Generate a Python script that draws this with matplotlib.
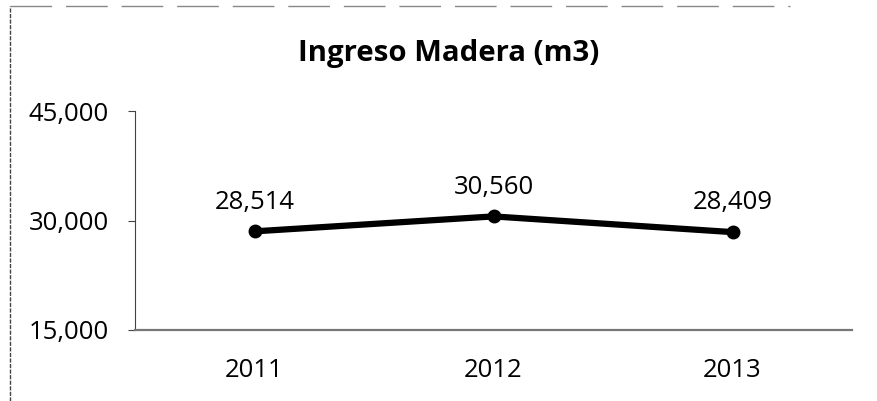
import matplotlib
matplotlib.use("Agg")
import matplotlib.pyplot as plt
from matplotlib.lines import Line2D
from matplotlib.ticker import FuncFormatter

years = ["2011", "2012", "2013"]
ingreso = [28514, 30560, 28409]
yticks = [15000, 30000, 45000]

font = ["Open Sans", "DejaVu Sans"]

fig = plt.figure(figsize=(8.77, 4.01), dpi=100)
ax = fig.add_axes([135 / 877, 1 - 330 / 401, (852 - 135) / 877, (330 - 111) / 401])

x = range(len(years))
ax.plot(x, ingreso, color="black", linewidth=4.5, marker="o", markersize=9,
        solid_capstyle="round")
for xi, v in zip(x, ingreso):
    ax.annotate(f"{v:,}", (xi, v), xytext=(0, 12), textcoords="offset points",
                ha="center", va="bottom", fontsize=18.5, family=font)

ax.set_xlim(-0.5, len(years) - 0.5)
ax.set_ylim(15000, 45000)
ax.set_yticks(yticks)
ax.yaxis.set_major_formatter(FuncFormatter(lambda v, p: f"{v:,.0f}"))
ax.set_xticks(list(x))
ax.set_xticklabels(years)
for lab in ax.get_xticklabels() + ax.get_yticklabels():
    lab.set_family(font)
    lab.set_fontsize(18.5)

for s in ["top", "right"]:
    ax.spines[s].set_visible(False)
ax.spines["left"].set_color("#444444")
ax.spines["left"].set_linewidth(0.8)
ax.spines["bottom"].set_color("#777777")
ax.spines["bottom"].set_linewidth(1.6)
ax.tick_params(axis="x", length=0, pad=20)
ax.tick_params(axis="y", length=5, color="#444444", pad=14)

fig.text(449 / 877, 1 - 53 / 401, "Ingreso Madera (m3)", ha="center", va="center",
         fontsize=21.2, fontweight="bold", family=font)

# scanned frame edges
fig.add_artist(Line2D([10 / 877, 10 / 877], [0, 1 - 6 / 401], color="#444444",
                      linewidth=1, linestyle=(0, (3, 1))))
fig.add_artist(Line2D([10 / 877, 790 / 877], [1 - 6 / 401, 1 - 6 / 401], color="#888888",
                      linewidth=1, linestyle=(0, (30, 10))))

fig.savefig("out.png", dpi=100, facecolor="white")
